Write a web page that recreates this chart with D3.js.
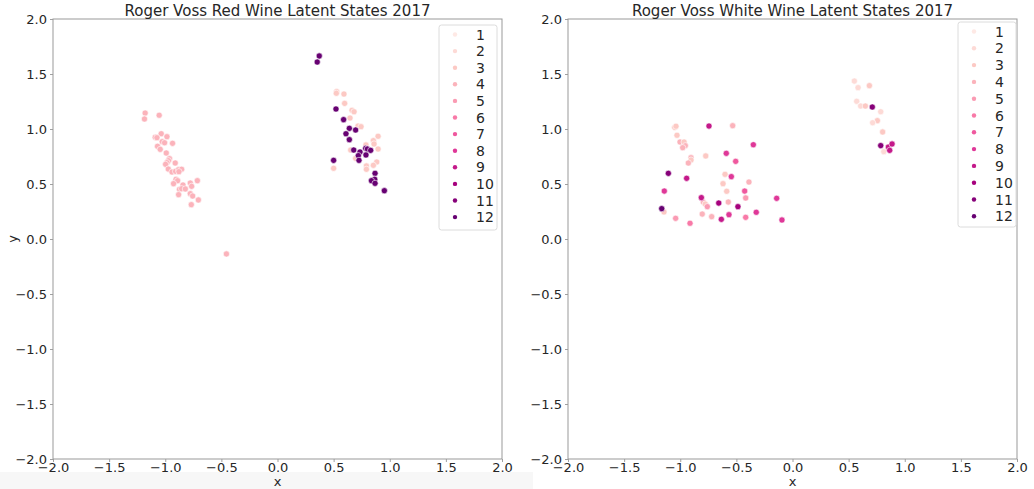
<!DOCTYPE html>
<html>
<head>
<meta charset="utf-8">
<script src="https://cdn.jsdelivr.net/npm/d3@7"></script>
<style>
  html, body { margin: 0; padding: 0; background: #fff; }
  svg { display: block; font-family: "DejaVu Sans", sans-serif; }
</style>
</head>
<body>
<svg id="chart" width="1034" height="489"></svg>
<script>
// Latent states per month (1–12) for Roger Voss reviews, 2017
const months = [1, 2, 3, 4, 5, 6, 7, 8, 9, 10, 11, 12];
const tickValues = [-2.0, -1.5, -1.0, -0.5, 0.0, 0.5, 1.0, 1.5, 2.0];

// Red wine
const redX = [
  -1.179, -1.185, -1.054, -1.036, -1.089, -1.074, -0.985, -1.027, -1.006, -0.935,
  -1.069, -1.045, -0.991, -0.962, -0.971, -0.985, -0.997, -0.911, -0.973, -0.940,
  -0.908, -0.881, -0.854, -0.878, -0.904, -0.890, -0.926, -0.842, -0.777, -0.714,
  -0.765, -0.873, -0.854, -0.821, -0.777, -0.756, -0.881, -0.705, -0.768, -0.455,
  0.527, 0.524, 0.592, 0.598, 0.664, 0.682, 0.646, 0.717, 0.744, 0.896,
  0.854, 0.860, 0.788, 0.896, 0.652, 0.696, 0.884, 0.792, 0.854, 0.792, 0.500,
  0.372, 0.354, 0.521, 0.589, 0.640, 0.696, 0.610, 0.640, 0.679, 0.735,
  0.786, 0.801, 0.830, 0.720, 0.788, 0.726, 0.500, 0.869, 0.866, 0.837, 0.869, 0.952
];
const redY = [
  1.145, 1.091, 1.125, 0.957, 0.925, 0.921, 0.930, 0.885, 0.875, 0.870,
  0.843, 0.815, 0.782, 0.730, 0.712, 0.694, 0.679, 0.691, 0.636, 0.609,
  0.615, 0.630, 0.634, 0.612, 0.543, 0.530, 0.503, 0.491, 0.509, 0.530,
  0.479, 0.452, 0.457, 0.455, 0.412, 0.391, 0.403, 0.355, 0.312, -0.136,
  1.339, 1.325, 1.318, 1.233, 1.170, 1.157, 1.100, 1.027, 1.021, 0.934,
  0.894, 0.864, 0.855, 0.818, 0.809, 0.733, 0.700, 0.664, 0.670, 0.634, 0.643,
  1.664, 1.609, 1.182, 1.085, 1.006, 0.991, 0.957, 0.903, 0.809, 0.791,
  0.824, 0.818, 0.806, 0.758, 0.764, 0.715, 0.715, 0.597, 0.543, 0.530, 0.506, 0.439
];
const redMonth = [
  4, 4, 4, 4, 4, 4, 4, 4, 4, 4,
  4, 4, 4, 4, 4, 4, 4, 4, 4, 4,
  4, 4, 4, 4, 4, 4, 4, 4, 4, 4,
  4, 4, 4, 4, 4, 4, 4, 4, 4, 4,
  3, 3, 3, 3, 3, 3, 3, 3, 3, 3,
  3, 3, 3, 3, 3, 3, 3, 3, 3, 3, 3,
  12, 12, 12, 12, 12, 12, 12, 12, 12, 12,
  12, 12, 12, 12, 12, 12, 12, 12, 12, 12, 12, 12
];

// White wine
const whiteX = [
  -1.049, -1.038, -0.533, -1.029, -1.002, -0.966, -0.955, -0.978, -0.773, -0.904,
  -0.904, -0.928, -0.601, -0.619, -0.388, -0.586, -0.795, -0.777, -0.759, -0.572,
  -0.417, -1.145, -0.804, -0.720, -1.041,
  -0.744, -0.349, -0.590, -0.506, -1.106, -0.943, -0.545, -1.142, -0.426, -0.812,
  -0.657, -0.141, -0.486, -1.165, -0.323, -0.566, -0.417, -0.634, -0.094, -0.913,
  0.551, 0.584, 0.685, 0.572, 0.607, 0.649, 0.786, 0.756, 0.714, 0.803, 0.813,
  0.711, 0.786, 0.854, 0.887, 0.866
];
const whiteY = [
  1.015, 1.025, 1.030, 0.943, 0.882, 0.882, 0.848, 0.830, 0.755, 0.739,
  0.718, 0.691, 0.588, 0.503, 0.518, 0.434, 0.336, 0.318, 0.294, 0.336,
  0.373, 0.246, 0.227, 0.203, 0.188,
  1.027, 0.857, 0.779, 0.706, 0.597, 0.552, 0.567, 0.436, 0.436, 0.376,
  0.327, 0.370, 0.294, 0.276, 0.243, 0.221, 0.197, 0.179, 0.173, 0.143,
  1.436, 1.376, 1.394, 1.252, 1.209, 1.209, 1.157, 1.076, 1.057, 0.973, 0.794,
  1.200, 0.849, 0.836, 0.864, 0.806
];
const whiteMonth = [
  3, 3, 4, 3, 4, 3, 4, 4, 3, 4,
  3, 4, 3, 3, 4, 3, 4, 3, 5, 4,
  5, 3, 4, 4, 5,
  9, 8, 8, 7, 11, 9, 8, 8, 7, 9,
  10, 8, 10, 12, 8, 8, 6, 9, 8, 6,
  2, 2, 3, 2, 2, 3, 2, 3, 2, 3, 2,
  11, 11, 9, 9, 9
];

// RdPu colour ramp sampled at 12 interior points
const rdpuStops = ["#fff7f3", "#fde0dd", "#fcc5c0", "#fa9fb5", "#f768a1",
                   "#dd3497", "#ae017e", "#7a0177", "#49006a"];
const ramp = d3.scaleLinear()
  .domain(d3.range(rdpuStops.length).map(i => i / (rdpuStops.length - 1)))
  .range(rdpuStops)
  .interpolate(d3.interpolateRgb);
const color = d3.scaleOrdinal()
  .domain(months)
  .range(months.map((m, i) => ramp((i + 1) / (months.length + 1))));

const svg = d3.select("#chart");

// faint band along the bottom of the left figure
svg.append("rect")
  .attr("x", 0).attr("y", 472).attr("width", 533).attr("height", 17)
  .attr("fill", "#f7f7f7");

function panel(opts) {
  const { left, right, top, bottom, title, xs, ys, ms, showYLabel, legend } = opts;
  const x = d3.scaleLinear().domain([-2, 2]).range([left, right]);
  const y = d3.scaleLinear().domain([-2, 2]).range([bottom, top]);
  const g = svg.append("g");

  g.append("rect")
    .attr("x", left).attr("y", top)
    .attr("width", right - left).attr("height", bottom - top)
    .attr("fill", "#fff");

  const fmt = d => d3.format(".1f")(d).replace("-", "\u2212");
  const xAxis = g.append("g")
    .attr("transform", `translate(0,${bottom})`)
    .call(d3.axisBottom(x).tickValues(tickValues).tickFormat(fmt)
      .tickSizeOuter(0).tickSizeInner(3).tickPadding(1));
  const yAxis = g.append("g")
    .attr("transform", `translate(${left},0)`)
    .call(d3.axisLeft(y).tickValues(tickValues).tickFormat(fmt)
      .tickSizeOuter(0).tickSizeInner(3).tickPadding(3));
  [xAxis, yAxis].forEach(a => {
    a.select(".domain").remove();
    a.selectAll("line").attr("stroke", "#888").attr("stroke-width", 0.8);
    a.selectAll("text").attr("fill", "#262626").style("font-size", "13px")
      .style("font-family", "DejaVu Sans, sans-serif");
  });

  // frame
  g.append("rect")
    .attr("x", left).attr("y", top)
    .attr("width", right - left).attr("height", bottom - top)
    .attr("fill", "none").attr("stroke", "#999").attr("stroke-width", 1);

  // points
  const data = xs.map((v, i) => ({ x: v, y: ys[i], m: ms[i] }));
  g.append("g").selectAll("circle")
    .data(data)
    .join("circle")
    .attr("cx", d => x(d.x))
    .attr("cy", d => y(d.y))
    .attr("r", 3.1)
    .attr("fill", d => color(d.m))
    .attr("stroke", "#fff")
    .attr("stroke-width", 0.6);

  // title and axis labels
  g.append("text")
    .attr("x", (left + right) / 2).attr("y", 16)
    .attr("text-anchor", "middle")
    .attr("fill", "#262626")
    .style("font-size", "15px")
    .text(title);
  g.append("text")
    .attr("x", (left + right) / 2).attr("y", 486)
    .attr("text-anchor", "middle")
    .attr("fill", "#262626")
    .style("font-size", "13px")
    .text("x");
  if (showYLabel) {
    g.append("text")
      .attr("transform", `translate(17,${y(0)}) rotate(-90)`)
      .attr("text-anchor", "middle")
      .attr("fill", "#262626")
      .style("font-size", "13px")
      .text("y");
  }

  // legend
  const lg = g.append("g").attr("transform", `translate(${legend.x},${legend.y})`);
  lg.append("rect")
    .attr("width", legend.w).attr("height", legend.h)
    .attr("rx", 2.5)
    .attr("fill", "#fff").attr("fill-opacity", 0.8)
    .attr("stroke", "#dcdcdc").attr("stroke-width", 1);
  const row = lg.selectAll("g.row")
    .data(months)
    .join("g")
    .attr("class", "row")
    .attr("transform", (d, i) => `translate(0,${legend.first + i * legend.step})`);
  row.append("circle")
    .attr("cx", legend.mx).attr("cy", 0).attr("r", 2.2)
    .attr("fill", d => color(d));
  row.append("text")
    .attr("x", legend.tx).attr("y", 0)
    .attr("dy", "0.36em")
    .attr("fill", "#262626")
    .style("font-size", "14px")
    .text(d => d);
}

panel({
  left: 53, right: 502, top: 19, bottom: 459,
  title: "Roger Voss Red Wine Latent States 2017",
  xs: redX, ys: redY, ms: redMonth, showYLabel: true,
  legend: { x: 439, y: 25, w: 58, h: 205, first: 9.5, step: 16.6, mx: 16, tx: 37 }
});

panel({
  left: 568, right: 1017, top: 19, bottom: 459,
  title: "Roger Voss White Wine Latent States 2017",
  xs: whiteX, ys: whiteY, ms: whiteMonth, showYLabel: false,
  legend: { x: 958, y: 22, w: 58, h: 205, first: 9.5, step: 16.8, mx: 16, tx: 37 }
});
</script>
</body>
</html>
